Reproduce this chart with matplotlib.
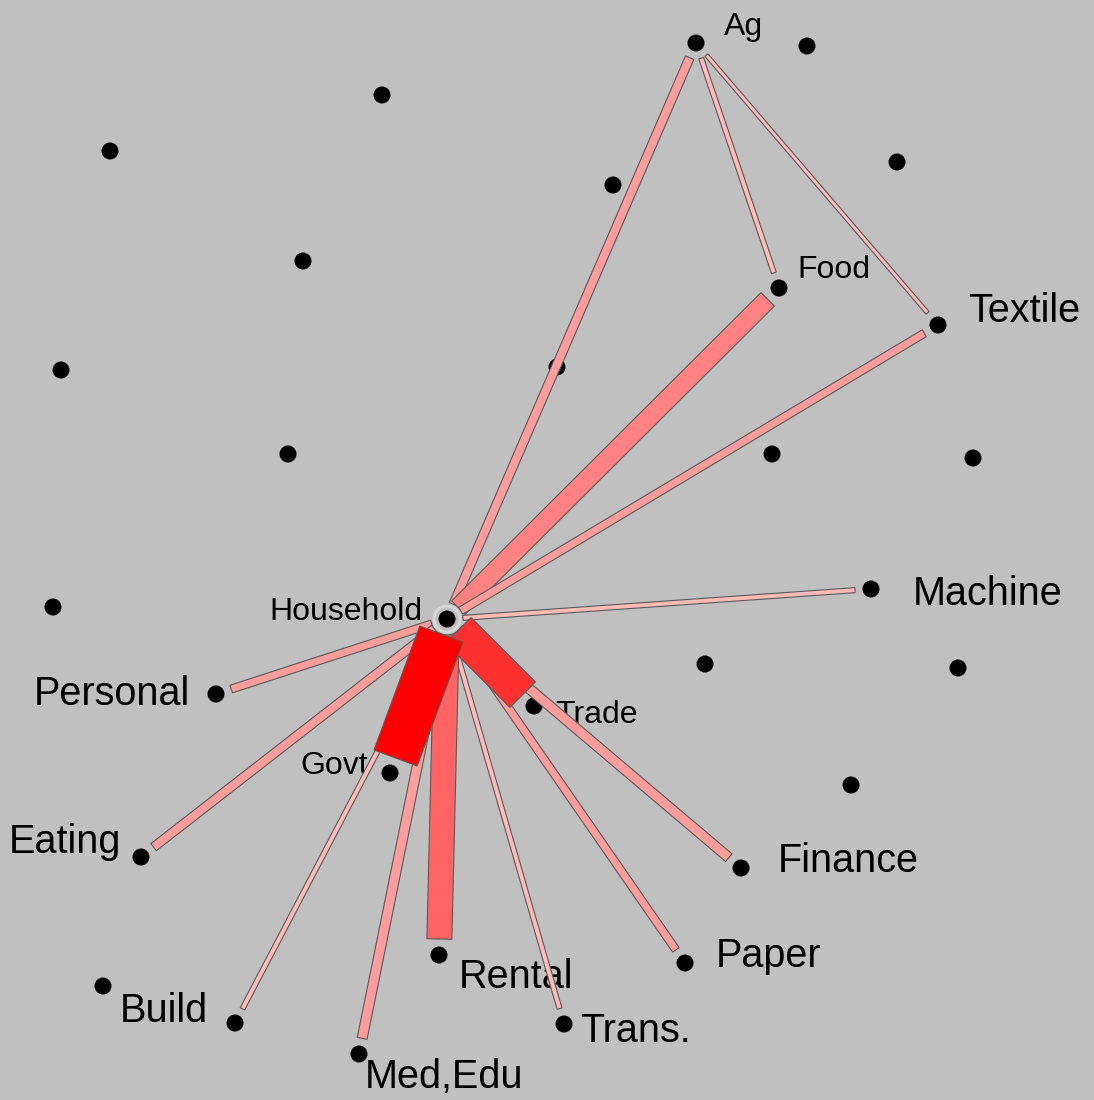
import numpy as np
import matplotlib
matplotlib.use("Agg")
import matplotlib.pyplot as plt
from matplotlib.patches import Polygon, Circle

# -----------------------------
# Knoten (Pixel-Layout des Originals)
# -----------------------------
node_names = ["Ag", "", "", "", "", "", "", "Food", "Textile", "", "",
              "", "", "", "", "Machine", "Household", "Personal", "", "",
              "Trade", "Govt", "", "Eating", "Finance", "Rental", "Paper",
              "", "Build", "Trans.", "Med,Edu"]
node_x = [696, 807, 382, 110, 613, 897, 303, 779, 938, 61, 557,
          288, 772, 973, 53, 871, 447, 216, 705, 958,
          534, 390, 851, 141, 741, 439, 685,
          103, 235, 564, 359]
node_y = [43, 46, 95, 151, 185, 162, 261, 288, 325, 370, 367,
          454, 454, 458, 607, 589, 619, 694, 664, 668,
          706, 773, 785, 857, 868, 955, 963,
          986, 1023, 1024, 1054]

# -----------------------------
# Kanten: Quelle, Ziel, Gewicht
# -----------------------------
edge_src = ["Ag", "Ag", "Household", "Household", "Household", "Household",
            "Household", "Household", "Household", "Household", "Household",
            "Household", "Household", "Household", "Household", "Household"]
edge_dst = ["Food", "Textile", "Ag", "Food", "Textile", "Machine",
            "Personal", "Eating", "Build", "Med,Edu", "Trans.", "Paper",
            "Finance", "Rental", "Trade", "Govt"]
edge_weight = [5, 4, 9, 19, 8, 5, 8, 9, 5, 10, 5, 8, 10, 25, 36, 46]

# Beschriftungen: (dx, dy zur Grundlinie, klein?, ausrichtung)
label_style = {
    "Ag": (28, -8, True, "left"), "Food": (18, -10, True, "left"),
    "Textile": (30, -3, False, "left"), "Machine": (42, 16, False, "left"),
    "Household": (-25, 1, True, "right"), "Personal": (-26, 11, False, "right"),
    "Trade": (21, 17, True, "left"), "Govt": (-22, 1, True, "right"),
    "Eating": (-20, -4, False, "right"), "Finance": (37, 4, False, "left"),
    "Rental": (20, 33, False, "left"), "Paper": (31, 4, False, "left"),
    "Build": (-27, -1, False, "right"), "Trans.": (16, 18, False, "left"),
    "Med,Edu": (6, 34, False, "left"),
}


def edge_color(w):
    if w <= 5:
        return "#ffbaba"
    if w <= 12:
        return "#ff9c9c"
    if w <= 20:
        return "#ff8282"
    if w <= 30:
        return "#ff6464"
    if w <= 40:
        return "#ff3030"
    return "#ff0000"


pos = {n: (x, y) for n, x, y in zip(node_names, node_x, node_y) if n}

fig = plt.figure(figsize=(10.94, 11.0), dpi=100)
fig.patch.set_facecolor("#c0c0c0")
ax = fig.add_axes([0, 0, 1, 1])
ax.set_facecolor("#c0c0c0")
ax.set_xlim(0, 1094)
ax.set_ylim(1100, 0)
ax.axis("off")

font = ["Liberation Sans", "DejaVu Sans"]

# Knoten
for x, y in zip(node_x, node_y):
    ax.add_patch(Circle((x, y), 8.5, facecolor="black", edgecolor="none", zorder=2))
hx, hy = pos["Household"]
ax.add_patch(Circle((hx, hy), 13, facecolor="none", edgecolor="#d8d8d8", lw=2, zorder=1))

# Beschriftungen
for name, (dx, dy, small, ha) in label_style.items():
    x, y = pos[name]
    ax.text(x + dx, y + dy, name, fontsize=23 if small else 28.5, family=font,
            ha=ha, va="baseline", color="black", zorder=3)

# Kanten als Balken, leichte zuerst
gap = 16
order = np.argsort(edge_weight, kind="stable")
for i in order:
    x0, y0 = pos[edge_src[i]]
    x1, y1 = pos[edge_dst[i]]
    d = np.array([x1 - x0, y1 - y0], dtype=float)
    u = d / np.linalg.norm(d)
    nrm = np.array([-u[1], u[0]]) * edge_weight[i] / 2
    p0 = np.array([x0, y0]) + u * gap
    p1 = np.array([x1, y1]) - u * gap
    pts = [p0 + nrm, p1 + nrm, p1 - nrm, p0 - nrm]
    ax.add_patch(Polygon(pts, closed=True, facecolor=edge_color(edge_weight[i]),
                         edgecolor="#5a5a5a", lw=0.8, zorder=4 + i * 0.01))

fig.savefig("out.png", dpi=100, facecolor=fig.get_facecolor())
